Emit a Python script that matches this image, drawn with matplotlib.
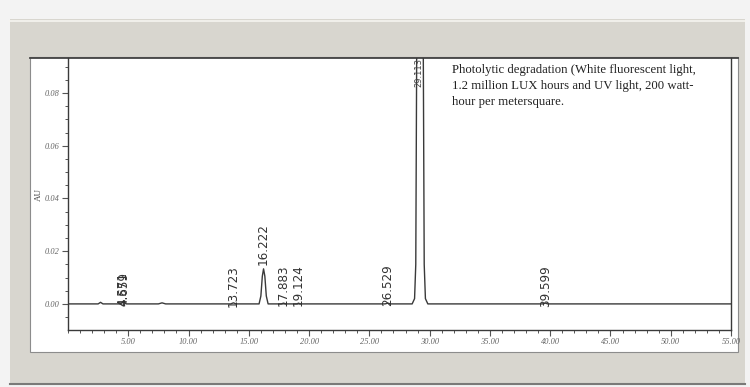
import matplotlib
matplotlib.use("Agg")
import matplotlib.pyplot as plt
from matplotlib.patches import Rectangle
from matplotlib.lines import Line2D
from matplotlib.ticker import MultipleLocator, FixedLocator

# ---- data ----
trace_time = [0.0, 1.5, 2.5, 2.7, 2.9, 4.3, 4.5, 4.6, 4.7, 4.85, 6.0, 7.5, 7.8, 8.1,
              13.5, 13.72, 13.95, 15.85, 16.0, 16.12, 16.222, 16.33, 16.45, 16.6,
              17.7, 17.88, 18.05, 19.0, 19.12, 19.25, 26.3, 26.53, 26.75,
              28.55, 28.75, 28.85, 28.95, 29.2, 29.45, 29.55, 29.65, 29.85,
              39.4, 39.6, 39.8, 55.0]
trace_au = [0.0, 0.0, 0.0, 0.0006, 0.0, 0.0, 0.0004, 0.0011, 0.0004, 0.0, 0.0, 0.0, 0.0004, 0.0,
            0.0, 0.0004, 0.0, 0.0, 0.003, 0.0105, 0.0133, 0.0105, 0.003, 0.0,
            0.0, 0.0003, 0.0, 0.0, 0.0003, 0.0, 0.0, 0.0003, 0.0,
            0.0, 0.002, 0.015, 0.12, 0.16, 0.12, 0.015, 0.002, 0.0,
            0.0, 0.0003, 0.0, 0.0]

peak_times = [4.571, 4.659, 13.723, 16.222, 17.883, 19.124, 26.529, 39.599]
peak_labels = ["4.571", "4.659", "13.723", "16.222", "17.883", "19.124", "26.529", "39.599"]
peak_label_base = [-0.0008, -0.0008, -0.0012, 0.0147, -0.0008, -0.0008, -0.0008, -0.0012]
main_peak_time = 29.113
main_peak_label = "29.113"

x_ticks = [5, 10, 15, 20, 25, 30, 35, 40, 45, 50, 55]
x_tick_labels = ["5.00", "10.00", "15.00", "20.00", "25.00", "30.00", "35.00",
                 "40.00", "45.00", "50.00", "55.00"]
y_ticks = [0.00, 0.02, 0.04, 0.06, 0.08]
y_tick_labels = ["0.00", "0.02", "0.04", "0.06", "0.08"]
y_label = "AU"
note = ("Photolytic degradation (White fluorescent light,\n"
        "1.2 million LUX hours and UV light, 200 watt-\n"
        "hour per metersquare.")

W, H = 750, 387
fig = plt.figure(figsize=(W / 100, H / 100), dpi=100)
fig.patch.set_facecolor("#f3f3f3")

def fx(px):
    return px / W

def fy(py):
    return 1 - py / H

# outer panel frame
fig.add_artist(Rectangle((fx(10), fy(384)), fx(735), (384 - 19) / H,
                         transform=fig.transFigure, facecolor="#d8d6cf",
                         edgecolor="none", zorder=0))
fig.add_artist(Line2D([fx(10), fx(745)], [fy(21), fy(21)], transform=fig.transFigure,
                      color="#f6f5f0", lw=1.2, zorder=1))
fig.add_artist(Line2D([fx(10), fx(745)], [fy(384), fy(384)], transform=fig.transFigure,
                      color="#7a7a78", lw=1.5, zorder=1))
# inner white paper
fig.add_artist(Rectangle((fx(30), fy(352)), fx(708), (352 - 57) / H,
                         transform=fig.transFigure, facecolor="white",
                         edgecolor="#8c8c8c", lw=0.8, zorder=1))
fig.add_artist(Line2D([fx(30), fx(738)], [fy(57.5), fy(57.5)], transform=fig.transFigure,
                      color="#444444", lw=1.3, zorder=2))

ax = fig.add_axes([fx(68), fy(330), fx(731 - 68), (330 - 58) / H], zorder=3)
ax.set_facecolor("none")
ax.set_xlim(0, 55)
ax.set_ylim(-0.0099, 0.0933)

ax.plot(trace_time, trace_au, color="#3a3a3a", lw=1.0, clip_on=True)

for t, lab, b in zip(peak_times, peak_labels, peak_label_base):
    ax.text(t, b, lab, rotation=90, ha="center", va="bottom", fontsize=9.5,
            color="#333333", family="DejaVu Sans", fontstretch="condensed")
ax.text(main_peak_time, 0.0933, main_peak_label, rotation=90, ha="center", va="top",
        fontsize=6, color="#444444", clip_on=False)

ax.spines["top"].set_visible(False)
for s in ["left", "bottom", "right"]:
    ax.spines[s].set_color("#3a3a3a")
    ax.spines[s].set_linewidth(1.0)

ax.xaxis.set_major_locator(FixedLocator(x_ticks))
ax.set_xticklabels(x_tick_labels)
ax.xaxis.set_minor_locator(MultipleLocator(1))
ax.yaxis.set_major_locator(FixedLocator(y_ticks))
ax.set_yticklabels(y_tick_labels)
ax.yaxis.set_minor_locator(MultipleLocator(0.005))
ax.tick_params(axis="both", which="major", direction="out", length=4, width=0.8,
               color="#555555", labelsize=6, labelcolor="#666666", pad=2)
ax.tick_params(axis="both", which="minor", direction="out", length=2.5, width=0.7,
               color="#555555")
for lab in ax.get_xticklabels() + ax.get_yticklabels():
    lab.set_family("Liberation Serif")
    lab.set_style("italic")

ax.set_ylabel(y_label, fontsize=6.5, color="#444444", family="Liberation Serif", labelpad=1)

fig.text(fx(452), fy(64), note, ha="left", va="top", fontsize=9.2,
         family="Liberation Serif", color="#222222", linespacing=1.45, zorder=4)

fig.savefig("out.png", dpi=100, facecolor=fig.get_facecolor())
